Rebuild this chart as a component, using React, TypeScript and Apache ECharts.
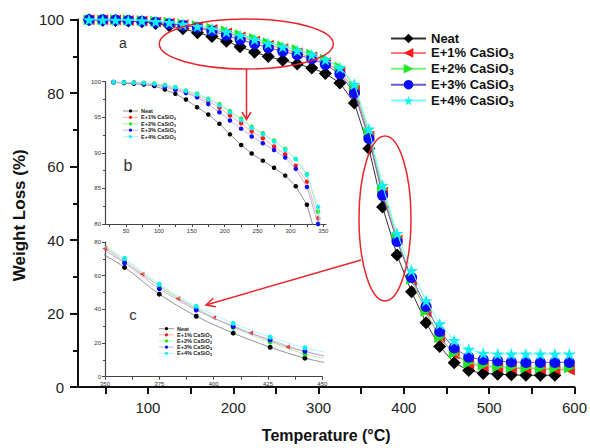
import React, { useEffect, useRef } from 'react';
import * as echarts from 'echarts';

// ---------- data ----------
const temps = [31, 47, 62, 77, 93, 109, 125, 141, 158, 175, 192, 208, 225, 241, 258, 275, 292, 308, 325, 342, 359, 375, 392, 409, 426, 442, 459, 476, 493, 510, 526, 543, 560, 577, 594];
const neat = [99.9, 99.8, 99.7, 99.6, 99.4, 98.9, 98.3, 97.5, 96.4, 95.4, 94.1, 92.6, 91.1, 89.9, 88.9, 87.9, 86.8, 85.3, 82.7, 77.3, 64.9, 49.0, 35.9, 25.9, 17.5, 11.0, 6.6, 4.5, 3.7, 3.5, 3.3, 3.2, 3.2, 3.2];
const e1 = [99.95, 99.9, 99.85, 99.75, 99.6, 99.35, 99.0, 98.55, 98.0, 97.25, 96.35, 95.25, 94.15, 93.0, 92.05, 90.9, 89.8, 88.2, 85.95, 80.8, 68.3, 53.0, 40.0, 29.0, 20.4, 13.3, 9.0, 6.3, 5.6, 5.3, 5.1, 5.0, 4.9, 4.8, 4.6];
const e2 = [99.95, 99.9, 99.9, 99.85, 99.75, 99.55, 99.25, 98.75, 98.3, 97.6, 96.85, 95.85, 94.8, 93.65, 92.75, 91.75, 90.55, 89.15, 87.0, 81.75, 69.2, 53.8, 40.8, 29.3, 20.6, 13.5, 9.2, 6.5, 5.9, 5.5, 5.3, 5.2, 5.1, 5.1, 5.2];
const e3 = [99.95, 99.9, 99.85, 99.75, 99.55, 99.25, 98.85, 98.4, 97.8, 96.85, 95.7, 94.55, 93.4, 92.3, 91.35, 90.4, 89.35, 87.75, 85.2, 80.0, 67.6, 52.2, 39.6, 29.8, 21.9, 15.1, 10.6, 8.1, 7.4, 7.05, 6.8, 6.7, 6.7, 6.7, 6.7];
const e4 = [99.95, 99.9, 99.85, 99.8, 99.7, 99.5, 99.2, 98.7, 98.2, 97.5, 96.7, 95.7, 94.6, 93.5, 92.6, 91.6, 90.4, 89.1, 86.9, 82.4, 70.2, 54.9, 41.8, 31.7, 23.5, 17.2, 12.7, 10.3, 9.2, 9.0, 9.0, 9.0, 9.0, 9.0, 9.0];
// inset c: E+1% markers sampled at other temperatures
const e1InsetCTemps = [350, 367, 383.5, 400, 417, 434, 451];
const e1InsetC = [76.2, 61.0, 46.5, 35.0, 25.9, 17.6, 12.2];

const seriesNames = ['Neat', 'E+1% CaSiO3', 'E+2% CaSiO3', 'E+3% CaSiO3', 'E+4% CaSiO3'];
const mainXTicks = [50, 100, 150, 200, 250, 300, 350, 400, 450, 500, 550, 600];
const mainXLabels = [100, 200, 300, 400, 500, 600];
const insetBXTicks = [25, 50, 75, 100, 125, 150, 175, 200, 225, 250, 275, 300, 325, 350];
const insetBXLabels = [50, 100, 150, 200, 250, 300, 350];

// ---------- styles ----------
const FONT = '"Liberation Sans", Arial, sans-serif';
const markerColors = ['#000000', '#ff1a1a', '#1fe81f', '#0a0aff', '#10f0f0'];
const lineColors = ['#333333', '#ff7a7a', '#77ee77', '#6a5acd', '#77ffff'];
const insetLineColors = ['#777777', '#f2a0a0', '#9eea9e', '#a8a0ee', '#a0f0f0'];
const STAR = 'path://M50,0 L61,35 L98,35 L68,57 L79,91 L50,70 L21,91 L32,57 L2,35 L39,35 Z';
const symbols = [
  'path://M0,-10 L10,0 L0,10 L-10,0 Z',
  'path://M0,5 L10,0 L10,10 Z',
  'path://M10,5 L0,0 L0,10 Z',
  'circle',
  STAR,
];
const symbolSizes = [13, 11, 11, 11, 13];
const RED = '#e8262b';

const pairs = (xs: number[], ys: number[]) => ys.map((y, i) => [xs[i], y]);
const allSeries = [neat, e1, e2, e3, e4];
const fmt = (n: string) => n.replace(/CaSiO3$/, 'CaSiO{s|3}');

export default function App() {
  const ref = useRef<HTMLDivElement>(null);
  useEffect(() => {
    if (!ref.current) return;
    const chart = echarts.init(ref.current, undefined, { renderer: 'svg' });

    const mainSeries = allSeries.map((vals, i) => ({
      name: seriesNames[i],
      type: 'line',
      xAxisIndex: 0,
      yAxisIndex: 0,
      data: pairs(temps, vals),
      symbol: symbols[i],
      symbolSize: symbolSizes[i],
      symbolKeepAspect: true,
      lineStyle: { color: lineColors[i], width: 1 },
      itemStyle: { color: markerColors[i] },
      z: 2 + i,
    }));

    const insetBSeries = allSeries.map((vals, i) => ({
      name: seriesNames[i],
      type: 'line',
      xAxisIndex: 1,
      yAxisIndex: 1,
      data: pairs(temps, vals),
      symbol: 'circle',
      symbolSize: 4.5,
      lineStyle: { color: insetLineColors[i], width: 0.8 },
      itemStyle: { color: markerColors[i] },
      clip: true,
      z: 10 + i,
    }));

    const insetCSeries = allSeries.map((vals, i) => ({
      name: seriesNames[i],
      type: 'line',
      xAxisIndex: 2,
      yAxisIndex: 2,
      data: i === 1 ? pairs(e1InsetCTemps, e1InsetC) : pairs(temps, vals),
      symbol: i === 1 ? 'path://M0,5 L10,0 L10,10 Z' : 'circle',
      symbolSize: 5,
      symbolKeepAspect: true,
      smooth: 0.3,
      lineStyle: { color: insetLineColors[i], width: 0.8 },
      itemStyle: { color: markerColors[i] },
      clip: true,
      z: 10 + i,
    }));

    const legendGraphic = (x0: number, y0: number, dy: number) => {
      const g: any[] = [];
      seriesNames.forEach((n, i) => {
        const y = y0 + i * dy;
        g.push({ type: 'line', shape: { x1: x0, y1: y, x2: x0 + 15, y2: y }, style: { stroke: insetLineColors[i], lineWidth: 0.8 }, z: 50 });
        g.push({ type: 'circle', shape: { cx: x0 + 7.5, cy: y, r: 1.6 }, style: { fill: markerColors[i] }, z: 51 });
        g.push({
          type: 'text', z: 51,
          style: {
            text: fmt(n), x: x0 + 18, y, align: 'left', verticalAlign: 'middle',
            fontSize: 5.5, fontWeight: 'bold', fontFamily: FONT, fill: '#222',
            rich: { s: { fontSize: 4, fontWeight: 'bold', fontFamily: FONT, fill: '#222', padding: [3, 0, 0, 0] } },
          },
        });
      });
      return g;
    };

    const insetAxisStyle = {
      axisLine: { show: true, onZero: false, lineStyle: { color: '#444', width: 1.2 } },
      splitLine: { show: false },
    };
    const insetLabel = { fontSize: 6, color: '#333', fontFamily: FONT, margin: 4 };
    const insetTick = { show: true, length: 3, lineStyle: { color: '#444', width: 1 } };

    const option: any = {
      animation: false,
      backgroundColor: '#ffffff',
      grid: [
        { left: 78, top: 19.5, width: 498, height: 374 },
        { left: 105, top: 81.7, width: 221, height: 142.3 },
        { left: 105, top: 242, width: 217.3, height: 134.7 },
      ],
      xAxis: [
        {
          type: 'value', gridIndex: 0, min: 18, max: 600,
          axisLine: { show: true, onZero: false, lineStyle: { color: '#111', width: 2 } },
          axisTick: { show: true, customValues: mainXTicks, length: 7, lineStyle: { color: '#111', width: 2 } },
          axisLabel: { customValues: mainXLabels, fontSize: 15, margin: 13, color: '#222', fontFamily: FONT },
          splitLine: { show: false },
          name: 'Temperature (°C)', nameLocation: 'middle', nameGap: 40,
          nameTextStyle: { fontSize: 16, fontWeight: 'bold', color: '#111', fontFamily: FONT },
        },
        {
          type: 'value', gridIndex: 1, min: 18, max: 354, ...insetAxisStyle,
          axisTick: { ...insetTick, customValues: insetBXTicks },
          axisLabel: { ...insetLabel, customValues: insetBXLabels },
        },
        {
          type: 'value', gridIndex: 2, min: 350, max: 450, interval: 25, ...insetAxisStyle,
          axisTick: insetTick,
          minorTick: { show: true, splitNumber: 2, length: 3, lineStyle: { color: '#444', width: 1 } },
          axisLabel: insetLabel,
        },
      ],
      yAxis: [
        {
          type: 'value', gridIndex: 0, min: 0, max: 100, interval: 20,
          axisLine: { show: true, onZero: false, lineStyle: { color: '#111', width: 2 } },
          axisTick: { show: true, length: 8, lineStyle: { color: '#111', width: 2 } },
          minorTick: { show: true, splitNumber: 2, length: 5, lineStyle: { color: '#111', width: 2 } },
          axisLabel: { fontSize: 15, margin: 14, color: '#222', fontFamily: FONT },
          splitLine: { show: false },
          name: 'Weight Loss (%)', nameLocation: 'middle', nameGap: 47,
          nameTextStyle: { fontSize: 17, fontWeight: 'bold', color: '#111', fontFamily: FONT, padding: [0, 24, 0, 0] },
        },
        {
          type: 'value', gridIndex: 1, min: 80, max: 100, interval: 5, ...insetAxisStyle,
          axisTick: insetTick,
          minorTick: { show: true, splitNumber: 2, length: 2, lineStyle: { color: '#444', width: 1 } },
          axisLabel: insetLabel,
        },
        {
          type: 'value', gridIndex: 2, min: 0, max: 80, interval: 20, ...insetAxisStyle,
          axisTick: insetTick,
          minorTick: { show: true, splitNumber: 2, length: 2, lineStyle: { color: '#444', width: 1 } },
          axisLabel: insetLabel,
        },
      ],
      legend: {
        orient: 'vertical', left: 385, top: 27, itemWidth: 35, itemHeight: 12, itemGap: 1.4,
        data: seriesNames,
        formatter: fmt,
        textStyle: {
          fontSize: 13, fontWeight: 'bold', color: '#111', fontFamily: FONT,
          rich: { s: { fontSize: 9, fontWeight: 'bold', color: '#111', fontFamily: FONT, padding: [7, 0, 0, 0] } },
        },
      },
      series: [...mainSeries, ...insetBSeries, ...insetCSeries],
      graphic: [
        { type: 'ellipse', z: 100, shape: { cx: 246.3, cy: 44, rx: 87, ry: 25 }, style: { fill: 'none', stroke: RED, lineWidth: 1.5 } },
        { type: 'line', z: 100, shape: { x1: 246.5, y1: 69, x2: 246.5, y2: 119 }, style: { stroke: RED, lineWidth: 1.5 } },
        { type: 'polyline', z: 100, shape: { points: [[242, 112], [246.5, 119.5], [251, 112]] }, style: { stroke: RED, fill: 'none', lineWidth: 1.5 } },
        { type: 'ellipse', z: 100, shape: { cx: 385, cy: 218.5, rx: 26, ry: 82.5 }, style: { fill: 'none', stroke: RED, lineWidth: 1.5 } },
        { type: 'line', z: 100, shape: { x1: 361, y1: 260, x2: 206, y2: 305 }, style: { stroke: RED, lineWidth: 1.5 } },
        { type: 'polyline', z: 100, shape: { points: [[215.9, 306.8], [206, 305], [213.3, 298.2]] }, style: { stroke: RED, fill: 'none', lineWidth: 1.5 } },
        { type: 'text', z: 100, style: { text: 'a', x: 123, y: 43, align: 'center', verticalAlign: 'middle', fontSize: 14, fontFamily: FONT, fill: '#333' } },
        { type: 'text', z: 100, style: { text: 'b', x: 128, y: 165, align: 'center', verticalAlign: 'middle', fontSize: 16, fontFamily: FONT, fill: '#333' } },
        { type: 'text', z: 100, style: { text: 'c', x: 133, y: 314, align: 'center', verticalAlign: 'middle', fontSize: 15, fontFamily: FONT, fill: '#333' } },
        ...legendGraphic(123, 111, 6.4),
        ...legendGraphic(159, 328.7, 6.15),
      ],
    };
    chart.setOption(option);
    return () => chart.dispose();
  }, []);

  return <div ref={ref} style={{ position: 'absolute', left: 0, top: 0, width: 590, height: 448 }} />;
}
